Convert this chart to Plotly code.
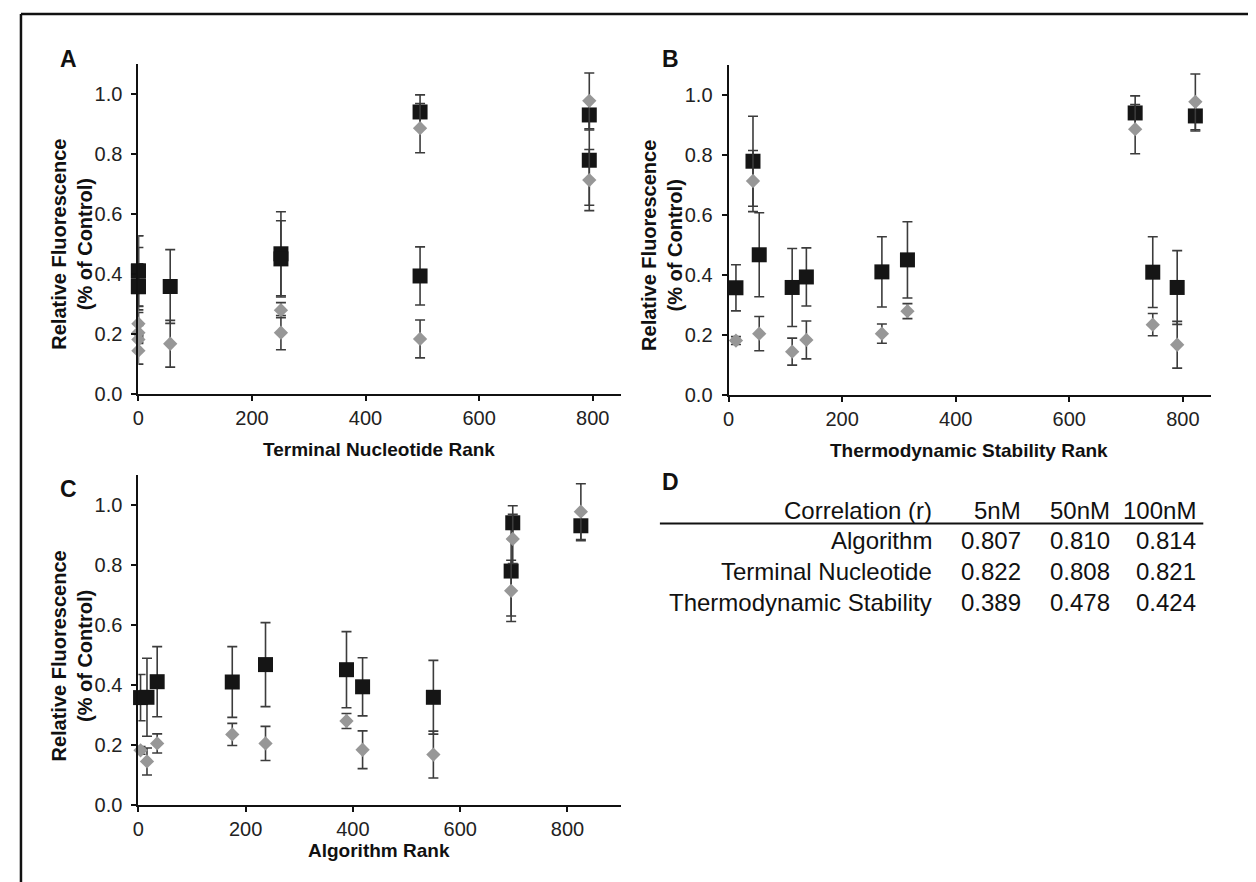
import plotly.graph_objects as go

# ---- data (11 oligos) ----
terminal_rank = [0, 794, 251, 0, 496, 0, 251, 496, 794, 0, 56]
thermo_rank   = [13, 43, 54, 112, 137, 270, 315, 716, 822, 747, 790]
algo_rank     = [4, 695, 237, 16, 418, 35, 388, 698, 825, 175, 550]

black_vals = [0.358, 0.780, 0.468, 0.359, 0.394, 0.411, 0.451, 0.941, 0.931, 0.410, 0.359]
black_err  = [0.077, 0.150, 0.140, 0.130, 0.097, 0.117, 0.127, 0.057, 0.050, 0.118, 0.123]
grey_vals  = [0.182, 0.714, 0.205, 0.145, 0.184, 0.205, 0.280, 0.887, 0.978, 0.235, 0.168]
grey_err   = [0.013, 0.102, 0.057, 0.045, 0.063, 0.032, 0.025, 0.082, 0.093, 0.037, 0.078]

table_header = ["Correlation (r)", "5nM", "50nM", "100nM"]
table_rows = ["Algorithm", "Terminal Nucleotide", "Thermodynamic Stability"]
table_vals = [["0.807", "0.810", "0.814"],
              ["0.822", "0.808", "0.821"],
              ["0.389", "0.478", "0.424"]]

panel_letters = ["A", "B", "C", "D"]
x_titles = ["Terminal Nucleotide Rank", "Thermodynamic Stability Rank", "Algorithm Rank"]
y_title = "Relative Fluorescence<br>(% of Control)"

W, H = 1256, 882
def px(x):
    return x / W
def py(y):
    return 1 - y / H

FONT = "Liberation Sans, Arial, sans-serif"
BLACK = "#151515"
GREY = "#979797"
ERRC = "#3c3c3c"

fig = go.Figure()

panels = [
    (terminal_rank, "x", "y", 850),
    (thermo_rank, "x2", "y2", 850),
    (algo_rank, "x3", "y3", 900),
]

for xs, xa, ya, xmax in panels:
    fig.add_trace(go.Scatter(
        x=xs, y=black_vals, mode="markers", xaxis=xa, yaxis=ya,
        marker=dict(symbol="square", size=15, color=BLACK),
        error_y=dict(type="data", array=black_err, visible=True,
                     color=ERRC, thickness=1.6, width=5),
        cliponaxis=False, showlegend=False))
    fig.add_trace(go.Scatter(
        x=xs, y=grey_vals, mode="markers", xaxis=xa, yaxis=ya,
        marker=dict(symbol="diamond", size=11, color=GREY),
        error_y=dict(type="data", array=grey_err, visible=True,
                     color=ERRC, thickness=1.6, width=5),
        cliponaxis=False, showlegend=False))

# domains in pixel space
doms = {
    "A": ((125, 610), (57, 391)),
    "B": ((718, 1203), (58, 392)),
    "C": ((125, 610), (473, 807)),
}

axis_common = dict(
    showline=True, linecolor="#111", linewidth=2, ticks="outside", ticklen=5,
    tickwidth=1.5, tickcolor="#111", showgrid=False, zeroline=False,
    tickfont=dict(family=FONT, size=20, color="#222"),
)

layout = dict(
    width=W, height=H, margin=dict(l=0, r=0, t=0, b=0),
    paper_bgcolor="white", plot_bgcolor="white", showlegend=False,
)

keys = [("xaxis", "yaxis", "x", "y"), ("xaxis2", "yaxis2", "x2", "y2"), ("xaxis3", "yaxis3", "x3", "y3")]
for (xk, yk, xa, ya), letter, (_, _, _, xmax) in zip(keys, ["A", "B", "C"], panels):
    (x0, x1), (y0, y1) = doms[letter]
    layout[xk] = dict(axis_common, domain=[px(x0), px(x1)], range=[0, xmax],
                      tickvals=[0, 200, 400, 600, 800], anchor=ya)
    layout[yk] = dict(axis_common, domain=[py(y1), py(y0)], range=[0, 1.1],
                      tickvals=[0, 0.2, 0.4, 0.6, 0.8, 1.0], tickformat=".1f",
                      anchor=xa, ticklabelstandoff=5)

fig.update_layout(**layout)

ann = []
# panel letters
letter_pos = [(55, 52), (660, 52), (55, 487), (660, 480)]
for l, (x, y) in zip(panel_letters, letter_pos):
    ann.append(dict(text=l, x=px(x), y=py(y), xref="paper", yref="paper",
                    showarrow=False, xanchor="center", yanchor="middle",
                    font=dict(family=FONT, size=23, color="#111", weight="bold")))

# x titles
xt_pos = [(367, 447), (960, 448), (367, 853)]
for t, (x, y) in zip(x_titles, xt_pos):
    ann.append(dict(text=t, x=px(x), y=py(y), xref="paper", yref="paper",
                    showarrow=False, xanchor="center", yanchor="middle",
                    font=dict(family=FONT, size=19, color="#111", weight="bold")))

# y titles
yt_pos = [(58, 239), (651, 240), (58, 656)]
for (x, y) in yt_pos:
    ann.append(dict(text=y_title, x=px(x), y=py(y), xref="paper", yref="paper",
                    showarrow=False, xanchor="center", yanchor="middle", textangle=-90,
                    font=dict(family=FONT, size=20, color="#111", weight="bold")))

# table D
col_right = [924, 1014, 1103, 1190]
row_y = [509, 539, 571, 602]
tfont = dict(family=FONT, size=24, color="#111")
for c, txt in enumerate(table_header):
    ann.append(dict(text=txt, x=px(col_right[c]), y=py(row_y[0]), xref="paper", yref="paper",
                    showarrow=False, xanchor="right", yanchor="middle", font=tfont))
for r, name in enumerate(table_rows):
    ann.append(dict(text=name, x=px(col_right[0]), y=py(row_y[r + 1]), xref="paper", yref="paper",
                    showarrow=False, xanchor="right", yanchor="middle", font=tfont))
    for c, v in enumerate(table_vals[r]):
        ann.append(dict(text=v, x=px(col_right[c + 1]), y=py(row_y[r + 1]), xref="paper", yref="paper",
                        showarrow=False, xanchor="right", yanchor="middle", font=tfont))

shapes = [
    # table rule
    dict(type="line", xref="paper", yref="paper", x0=px(649), x1=px(1195), y0=py(522), y1=py(522),
         line=dict(color="#111", width=2)),
    # border
    dict(type="line", xref="paper", yref="paper", x0=px(7), x1=px(1248), y0=py(6), y1=py(6),
         line=dict(color="#111", width=2.5)),
    dict(type="line", xref="paper", yref="paper", x0=px(7), x1=px(7), y0=py(6), y1=py(890),
         line=dict(color="#111", width=2.5)),
    dict(type="line", xref="paper", yref="paper", x0=px(1248), x1=px(1248), y0=py(6), y1=py(890),
         line=dict(color="#111", width=2.5)),
]

fig.update_layout(annotations=ann, shapes=shapes)
fig.write_html("out.html")
